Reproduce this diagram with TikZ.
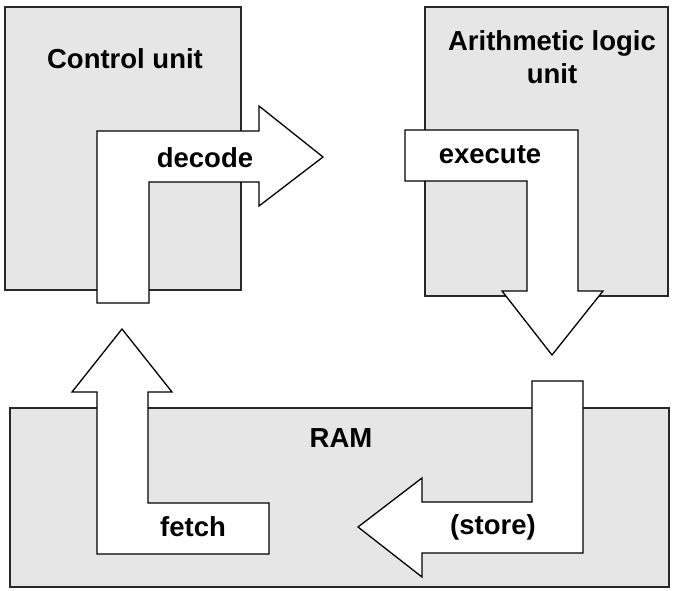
\documentclass[tikz,border=0pt]{standalone}
\usepackage{fontspec}
\setmainfont{Liberation Sans}
\usepackage{tikz}
\usetikzlibrary{positioning}
\definecolor{boxgray}{RGB}{230,230,230}
\definecolor{boxline}{RGB}{40,40,40}
\tikzset{
  % --- Khoi phan cung ----------------------------------------
  unitbox/.style={draw=boxline, fill=boxgray, line width=1.3pt,
    inner sep=0pt, outer sep=0pt},
  unitlab/.style={font=\fontsize{27.5}{33}\selectfont\bfseries,
    align=center, inner sep=0pt},
  % --- Mui ten khoi ------------------------------------------
  blockarr/.style={draw=black, fill=white, line width=1.3pt, line join=miter},
  arrlab/.style={font=\fontsize{27.5}{33}\selectfont\bfseries, inner sep=0pt}
}
\begin{document}
\begin{tikzpicture}[x=1pt, y=-1pt]
  \useasboundingbox (0,0) rectangle (675,591);

  % --- Cac khoi ----------------------------------------------
  \node[unitbox, minimum width=236pt, minimum height=283pt] (CU) at (123,148.5) {};
  \node[unitbox, minimum width=243pt, minimum height=289pt] (ALU) at (546.5,151.5) {};
  \node[unitbox, minimum width=659pt, minimum height=179pt] (RAM) at (339.5,497.5) {};

  \node[unitlab] (CUlab) at (125,59) {Control unit};
  \node[unitlab] (ALUlab) at (552,57) {Arithmetic logic\\unit};
  \node[unitlab] (RAMlab) at (341,438) {RAM};

  % --- decode ------------------------------------------------
  \draw[blockarr] (97,303) -- (97,131) -- (259,131) -- (259,106) -- (323,157)
    -- (259,206) -- (259,182) -- (149,182) -- (149,303) -- cycle;
  \node[arrlab] (DEC) at (205,158) {decode};

  % --- execute -----------------------------------------------
  \draw[blockarr] (405,130) -- (578,130) -- (578,291) -- (603,291) -- (552,355)
    -- (502,291) -- (527,291) -- (527,181) -- (405,181) -- cycle;
  \node[arrlab] (EXE) at (490,155) {execute};

  % --- store -------------------------------------------------
  \draw[blockarr] (532,381) -- (583,381) -- (583,553) -- (422,553) -- (422,577)
    -- (358,527) -- (422,478) -- (422,502) -- (532,502) -- cycle;
  \node[arrlab] (STO) at (493,527) {(store)};

  % --- fetch -------------------------------------------------
  \draw[blockarr] (269,503) -- (269,554) -- (97,554) -- (97,392) -- (72,392)
    -- (122,329) -- (172,392) -- (148,392) -- (148,503) -- cycle;
  \node[arrlab] (FET) at (193,527) {fetch};

\end{tikzpicture}
\end{document}
